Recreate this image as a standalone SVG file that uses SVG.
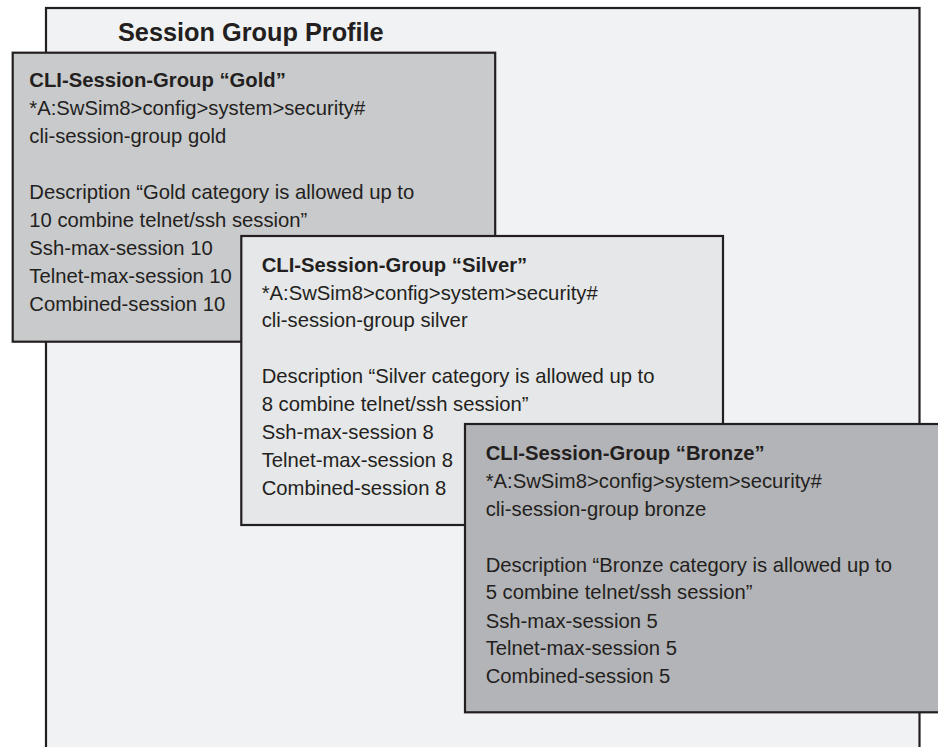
<svg xmlns="http://www.w3.org/2000/svg" width="938" height="747" viewBox="0 0 938 747">
  <style>
    .frame { fill: #f1f2f4; stroke: #231f20; stroke-width: 2.2; }
    .box { stroke: #231f20; stroke-width: 2.2; }
    .gold { fill: #c9cacc; }
    .silver { fill: #e6e7e8; }
    .bronze { fill: #b3b4b7; }
    text { font-family: "Liberation Sans", Arial, sans-serif; fill: #231f20; font-size: 20.25px; }
    .title { font-size: 25.3px; font-weight: bold; }
    .head { font-weight: bold; }
  </style>
  <rect width="938" height="747" fill="#ffffff"/>

  <!-- outer profile frame, open at the bottom -->
  <g id="profile">
    <rect class="frame" x="46" y="8" width="873.5" height="760"/>
    <text class="title" x="118" y="40.5">Session Group Profile</text>
  </g>

  <g id="gold">
    <rect class="box gold" x="12.7" y="52.7" width="482.5" height="289"/>
    <text class="head" x="29.3" y="87.3">CLI-Session-Group “Gold”</text>
    <text x="29.3" y="115.2">*A:SwSim8&gt;config&gt;system&gt;security#</text>
    <text x="29.3" y="143">cli-session-group gold</text>
    <text x="29.3" y="199">Description “Gold category is allowed up to</text>
    <text x="29.3" y="227">10 combine telnet/ssh session”</text>
    <text x="29.3" y="255">Ssh-max-session 10</text>
    <text x="29.3" y="283">Telnet-max-session 10</text>
    <text x="29.3" y="311">Combined-session 10</text>
  </g>

  <g id="silver">
    <rect class="box silver" x="241.3" y="236" width="481.7" height="289"/>
    <text class="head" x="261.7" y="271.5">CLI-Session-Group “Silver”</text>
    <text x="261.7" y="299.5">*A:SwSim8&gt;config&gt;system&gt;security#</text>
    <text x="261.7" y="327.3">cli-session-group silver</text>
    <text x="261.7" y="383.3">Description “Silver category is allowed up to</text>
    <text x="261.7" y="411">8 combine telnet/ssh session”</text>
    <text x="261.7" y="439">Ssh-max-session 8</text>
    <text x="261.7" y="467">Telnet-max-session 8</text>
    <text x="261.7" y="495">Combined-session 8</text>
  </g>

  <!-- bronze box runs past the right edge -->
  <g id="bronze">
    <rect class="box bronze" x="465" y="424" width="490" height="288.3"/>
    <text class="head" x="485.7" y="459.5">CLI-Session-Group “Bronze”</text>
    <text x="485.7" y="487.6">*A:SwSim8&gt;config&gt;system&gt;security#</text>
    <text x="485.7" y="515.6">cli-session-group bronze</text>
    <text x="485.7" y="571.6">Description “Bronze category is allowed up to</text>
    <text x="485.7" y="599.4">5 combine telnet/ssh session”</text>
    <text x="485.7" y="627.5">Ssh-max-session 5</text>
    <text x="485.7" y="655.4">Telnet-max-session 5</text>
    <text x="485.7" y="683.3">Combined-session 5</text>
  </g>

  <g id="connectors"/>
</svg>
